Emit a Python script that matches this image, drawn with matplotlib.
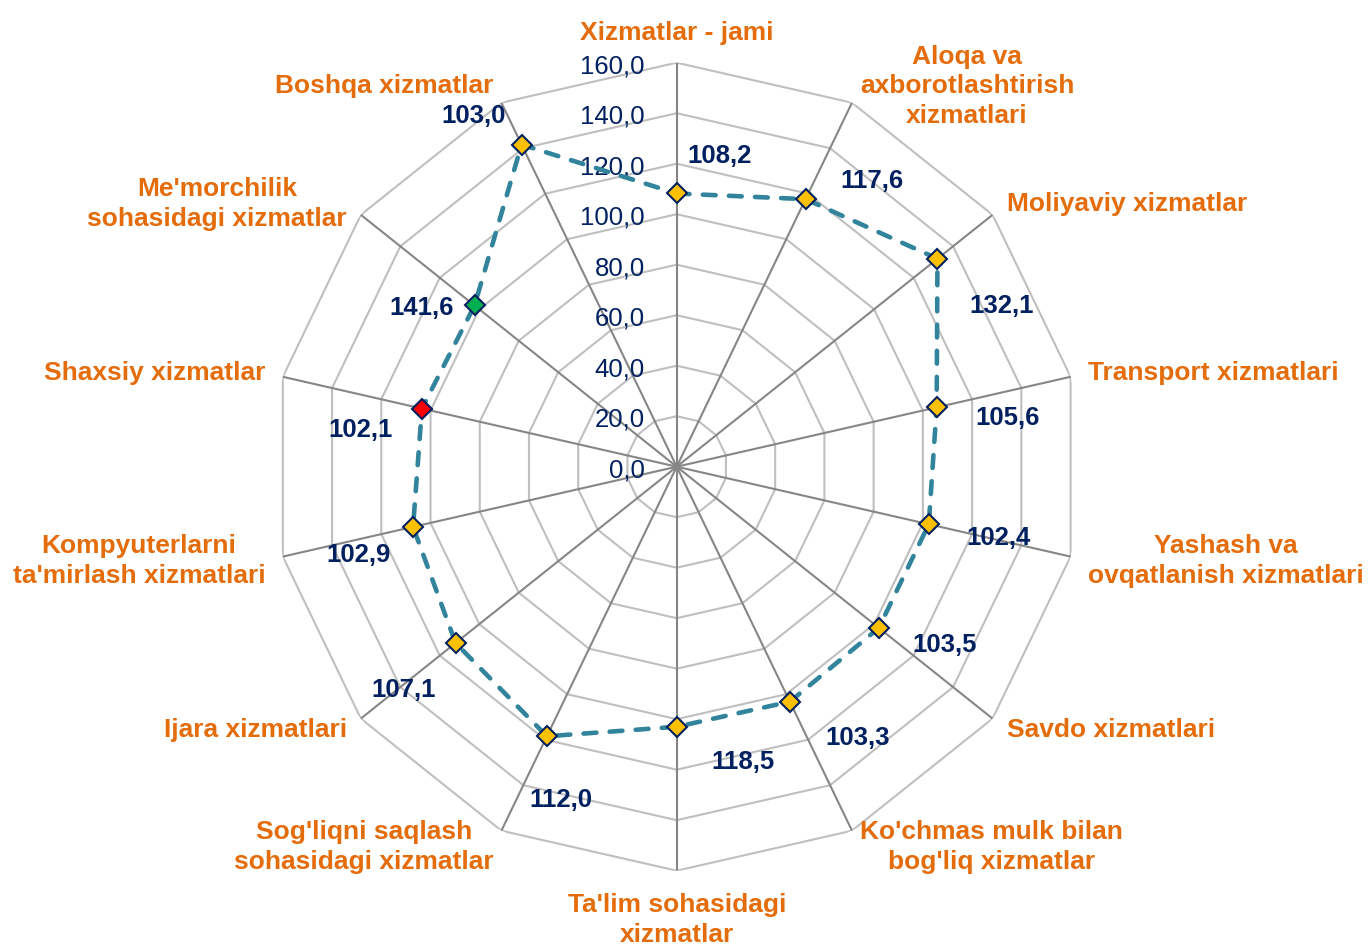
import numpy as np
import matplotlib.pyplot as plt

plt.rcParams['font.family'] = ['Liberation Sans', 'DejaVu Sans']

# categories clockwise from the top
categories = [
    "Xizmatlar - jami",
    "Aloqa va\naxborotlashtirish\nxizmatlari",
    "Moliyaviy xizmatlar",
    "Transport xizmatlari",
    "Yashash va\novqatlanish xizmatlari",
    "Savdo xizmatlari",
    "Ko'chmas mulk bilan\nbog'liq xizmatlar",
    "Ta'lim sohasidagi\nxizmatlar",
    "Sog'liqni saqlash\nsohasidagi xizmatlar",
    "Ijara xizmatlari",
    "Kompyuterlarni\nta'mirlash xizmatlari",
    "Shaxsiy xizmatlar",
    "Me'morchilik\nsohasidagi xizmatlar",
    "Boshqa xizmatlar",
]
# marker positions as drawn
values = [108.2, 117.6, 132.1, 105.6, 102.4, 102.4, 103.3,
          103.0, 118.5, 112.0, 107.1, 103.5, 102.4, 141.6]
# data label texts as printed next to the markers
value_labels = ['108,2', '117,6', '132,1', '105,6', '102,4', '103,5', '103,3',
                '118,5', '112,0', '107,1', '102,9', '102,1', '141,6', '103,0']
ring_values = [0, 20, 40, 60, 80, 100, 120, 140, 160]

# styling / layout
marker_faces = ['#FFC000'] * 11 + ['#FF0000', '#00B050', '#FFC000']
label_offsets = [(43, 37), (66, 18), (64, -47), (71, -11), (70, -14), (66, -17),
                 (68, -36), (66, -35), (14, -64), (-52, -47), (-55, -28),
                 (-61, -21), (-53, -3), (-48, 29)]
orange = '#E46C0A'
navy = '#002060'

n = len(categories)
theta = np.arange(n) * 2 * np.pi / n

fig = plt.figure(figsize=(13.7, 9.46), dpi=100)
ax = fig.add_axes([0.19905, 0.0796, 0.58978, 0.85412], projection='polar')
ax.set_theta_zero_location('N')
ax.set_theta_direction(-1)
ax.set_ylim(0, 160)
ax.grid(False)
ax.set_xticks([])
ax.set_yticks([])
ax.spines['polar'].set_visible(False)
ax.patch.set_visible(False)

# polygon rings
closed = np.append(theta, theta[0])
for r in ring_values[1:]:
    ax.plot(closed, [r] * (n + 1), color='#BFBFBF', lw=1.5, zorder=1)
# spokes
for t in theta:
    ax.plot([t, t], [0, 160], color='#868686', lw=1.5, zorder=1.5)

# radial tick labels
for r in ring_values:
    ax.annotate(f'{r:.1f}'.replace('.', ','), xy=(0, r), xytext=(-32, -3.5),
                textcoords='offset pixels', ha='right', va='center',
                fontsize=18.5, color=navy, zorder=3)

# series
ax.plot(np.append(theta, theta[0]), values + values[:1], color='#31849B', lw=3.3,
        linestyle=(0, (2.8, 2.9)), dash_capstyle='round', zorder=4)
for t, v, fc in zip(theta, values, marker_faces):
    ax.plot([t], [v], marker='D', markersize=10.5, markerfacecolor=fc,
            markeredgecolor=navy, markeredgewidth=1.5, linestyle='none', zorder=5)

# data labels
for t, v, txt, off in zip(theta, values, value_labels, label_offsets):
    ax.annotate(txt, xy=(t, v), xytext=off, textcoords='offset pixels',
                ha='center', va='center', fontsize=18.5, fontweight='bold',
                color=navy, zorder=6)

# category labels
for t, name in zip(theta, categories):
    s, c = np.sin(t), np.cos(t)
    ha = 'left' if s > 0.05 else ('right' if s < -0.05 else 'center')
    va = 'bottom' if c > 0.99 else ('top' if c < -0.99 else 'center')
    dist = 22 if c < -0.99 else 18
    ax.annotate(name, xy=(t, 160), xytext=(dist * s, dist * c),
                textcoords='offset pixels', ha=ha, va=va, multialignment='center',
                fontsize=19, fontweight='bold', color=orange, linespacing=1.31,
                annotation_clip=False)

fig.savefig('out.png', dpi=100)
